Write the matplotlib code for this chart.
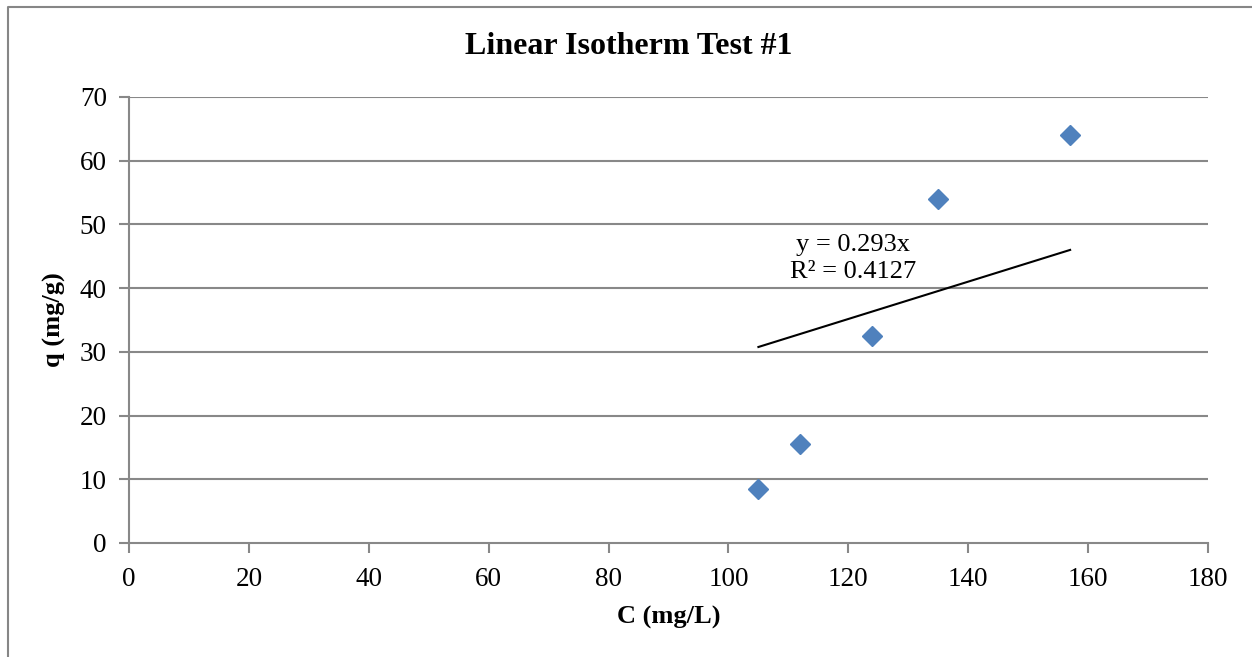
import numpy as np
import matplotlib.pyplot as plt
from matplotlib.lines import Line2D

# Data
conc = [105, 112, 124, 135, 157]
q = [8.5, 15.5, 32.5, 54, 64]
slope = 0.293
r2 = 0.4127

x_ticks = [0, 20, 40, 60, 80, 100, 120, 140, 160, 180]
y_ticks = [0, 10, 20, 30, 40, 50, 60, 70]

plt.rcParams['font.family'] = ['Liberation Serif', 'DejaVu Serif']

fig = plt.figure(figsize=(12.52, 6.57), dpi=100)
ax = fig.add_axes([129 / 1252, 1 - 543 / 657, (1208 - 129) / 1252, (543 - 97) / 657])

# outer chart border (left and top edges only, the rest is cropped)
bx = 8 / 1252
by = 1 - 7 / 657
fig.lines.append(Line2D([bx, bx, 1.0], [0.0, by, by], transform=fig.transFigure,
                        color='#868686', linewidth=1.5))

grid_col = '#888888'
for yv in y_ticks[1:]:
    ax.axhline(yv, color=grid_col, linewidth=1.5, zorder=1)

ax.plot(conc, q, linestyle='', marker='D', markersize=10,
        color='#4F81BD', zorder=3, clip_on=False)

# linear trendline through origin, drawn over the data range
tx = np.array([min(conc), max(conc)])
ax.plot(tx, slope * tx, color='black', linewidth=1.5, zorder=2)
ax.text(120.8, 44.7, 'y = %.3fx\nR² = %.4f' % (slope, r2), ha='center', va='center',
        fontsize=19, linespacing=1.3, zorder=4)

ax.set_xlim(0, 180)
ax.set_ylim(0, 70)
ax.set_xticks(x_ticks)
ax.set_yticks(y_ticks)
ax.tick_params(axis='both', labelsize=19.5, color=grid_col, width=1.5, length=7,
               direction='out')
ax.tick_params(axis='x', pad=10)
ax.tick_params(axis='y', pad=9)
for s in ['top', 'right']:
    ax.spines[s].set_visible(False)
for s in ['left', 'bottom']:
    ax.spines[s].set_color(grid_col)
    ax.spines[s].set_linewidth(1.5)

fig.text(629 / 1252, 1 - 47 / 657, 'Linear Isotherm Test #1', ha='center', va='center',
         fontsize=23, fontweight='bold')
ax.set_xlabel('C (mg/L)', fontsize=19, fontweight='bold', labelpad=10)
ax.set_ylabel('q (mg/g)', fontsize=19, fontweight='bold', labelpad=10)

fig.savefig('out.png', dpi=100)
